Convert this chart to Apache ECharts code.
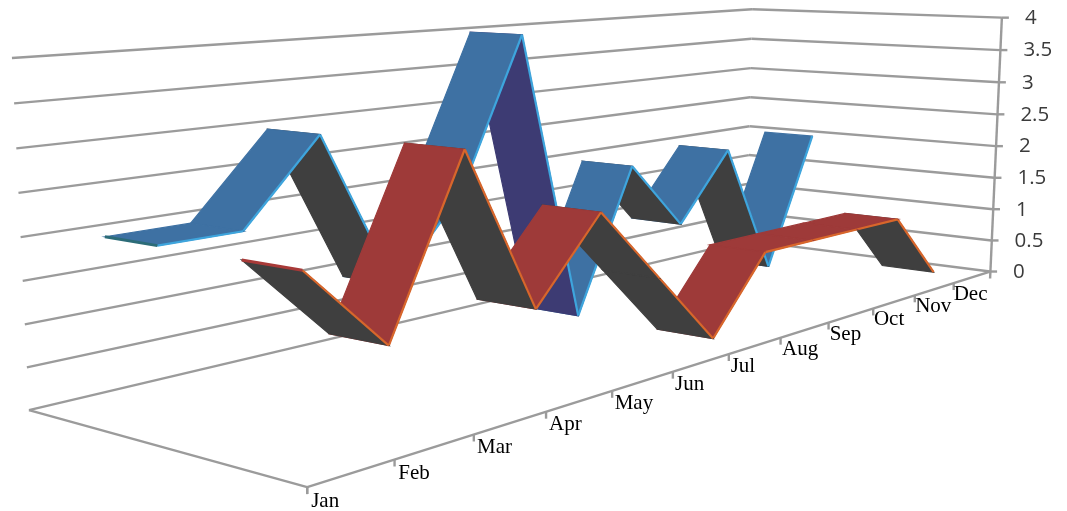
<!DOCTYPE html>
<html>
<head>
<meta charset="utf-8">
<style>html,body{margin:0;padding:0;background:#fff}#chart{width:1067px;height:511px}</style>
<script src="https://cdn.jsdelivr.net/npm/echarts@6/dist/echarts.min.js"></script>
</head>
<body>
<div id="chart"></div>
<script>
// Chart data
const categories = ['Jan','Feb','Mar','Apr','May','Jun','Jul','Aug','Sep','Oct','Nov','Dec'];
const valueTicks = [0, 0.5, 1, 1.5, 2, 2.5, 3, 3.5, 4];
const backSeriesValues = [2, 2, 3, 1, 2, 4, 0, 2, 1, 2, 0, 2];
const frontSeriesValues = [2, 1, 3, 1, 2, 1, 0, 1, 1, 1, 1, 0];

// Camera: known box corners (across, depth, height, all 0..1) and where they land on the page
const anchors = [
  [0, 0, 0, 307, 487], [1, 0, 0, 990, 271], [0, 1, 0, 29, 410], [1, 1, 0, 747, 241],
  [1, 0, 1, 1002, 18], [0, 1, 1, 12, 58], [1, 1, 1, 752, 9],
  [0.5, 0, 0, 729, 354], [0.25, 0, 0, 546, 412]
];

// Least-squares fit of the 3x4 projection matrix
function fitProjection(points) {
  const n = 11, M = [], R = [];
  for (let i = 0; i < n; i++) { M.push(new Array(n).fill(0)); R.push(0); }
  const add = (row, rhs) => {
    for (let i = 0; i < n; i++) {
      R[i] += row[i] * rhs;
      for (let j = 0; j < n; j++) M[i][j] += row[i] * row[j];
    }
  };
  points.forEach(([a, b, c, x, y]) => {
    add([a, b, c, 1, 0, 0, 0, 0, -x * a, -x * b, -x * c], x);
    add([0, 0, 0, 0, a, b, c, 1, -y * a, -y * b, -y * c], y);
  });
  for (let i = 0; i < n; i++) {
    let p = i;
    for (let k = i + 1; k < n; k++) if (Math.abs(M[k][i]) > Math.abs(M[p][i])) p = k;
    [M[i], M[p]] = [M[p], M[i]]; [R[i], R[p]] = [R[p], R[i]];
    for (let k = i + 1; k < n; k++) {
      const f = M[k][i] / M[i][i];
      for (let j = i; j < n; j++) M[k][j] -= f * M[i][j];
      R[k] -= f * R[i];
    }
  }
  const s = new Array(n).fill(0);
  for (let i = n - 1; i >= 0; i--) {
    let t = R[i];
    for (let j = i + 1; j < n; j++) t -= M[i][j] * s[j];
    s[i] = t / M[i][i];
  }
  return s;
}
const P = fitProjection(anchors);
function project(u, d, w) {
  const q = P[8] * u + P[9] * d + P[10] * w + 1;
  return [(P[0] * u + P[1] * d + P[2] * w + P[3]) / q, (P[4] * u + P[5] * d + P[6] * w + P[7]) / q];
}

// Flat axes supply the scales; their pixels are normalised before the 3D projection
function unit(params, api, cat, value, offset) {
  const cs = params.coordSys;
  const px = api.coord([cat, value]);
  const band = cs.width / categories.length;
  return [(px[0] + (offset || 0) * band - cs.x) / cs.width, 1 - (px[1] - cs.y) / cs.height];
}

const axisStyle = { stroke: '#9b9b9b', lineWidth: 2.4, fill: null };
const segment = (a, b, style) => ({
  type: 'line', shape: { x1: a[0], y1: a[1], x2: b[0], y2: b[1] }, style: style || axisStyle
});

// Wall gridlines, with a tick mark and number on the upright axis
function renderValueTick(params, api) {
  const w = unit(params, api, 0, api.value(0))[1];
  const left = project(0, 1, w), corner = project(1, 1, w), right = project(1, 0, w);
  return {
    type: 'group',
    children: [
      segment(left, corner), segment(corner, right),
      segment(right, [right[0] + 7, right[1]]),
      {
        type: 'text',
        style: {
          x: right[0] + 23, y: right[1] + 0.5, text: String(api.value(0)),
          font: '20.5px "Open Sans"', fill: '#3b3b3b', textAlign: 'left', textVerticalAlign: 'middle'
        }
      }
    ]
  };
}

// Floor outline and the upright axis
function renderFrame() {
  const A = project(0, 0, 0), B = project(1, 0, 0), C = project(0, 1, 0), E = project(1, 0, 1);
  return {
    type: 'group',
    children: [
      segment(A, B), segment(A, C),
      segment([B[0], B[1] + 7], E),
      segment(A, [A[0], A[1] + 7])
    ]
  };
}

// Month tick marks along the floor edge, with labels beside them
function renderCategoryTick(params, api) {
  const i = api.value(0);
  const u = unit(params, api, i, 0, -0.5)[0];
  const at = project(u, 0, 0);
  const k = i / (categories.length - 1);
  return {
    type: 'group',
    children: [
      segment(at, [at[0], at[1] + 7]),
      {
        type: 'text',
        style: {
          x: at[0] + 4 - 4 * k, y: at[1] + 14 - 3 * k, text: categories[i],
          font: '21px "Liberation Serif"', fill: '#000', textAlign: 'left', textVerticalAlign: 'middle'
        }
      }
    ]
  };
}

// One ribbon segment between neighbouring months
function ribbonRenderer(look) {
  return function (params, api) {
    const i = api.value(0), a = api.value(1), b = api.value(2);
    const pa = unit(params, api, i, a), pb = unit(params, api, i + 1, b);
    const backA = project(pa[0], look.back, pa[1]), frontA = project(pa[0], look.front, pa[1]);
    const backB = project(pb[0], look.back, pb[1]), frontB = project(pb[0], look.front, pb[1]);
    const falling = a > b;
    const fill = !falling ? look.top : (a - b >= 4 ? '#3d3b73' : '#3f3f3f');
    const edge = { stroke: look.edge, lineWidth: 2.2, fill: null };
    const children = [
      { type: 'polygon', shape: { points: [backA, backB, frontB, frontA] }, style: { fill: fill, stroke: fill, lineWidth: 1.2 } },
      segment(frontA, frontB, edge)
    ];
    if (i === 0) {
      children.push(segment(backA, frontA, { stroke: look.cap, lineWidth: 3, fill: null }));
    }
    return { type: 'group', children: children };
  };
}

// Segments are listed far-to-near so closer months paint over farther ones
const segmentsOf = values => values.slice(0, -1)
  .map((v, i) => [i, v, values[i + 1]])
  .reverse();

const chart = echarts.init(document.getElementById('chart'), null, { renderer: 'canvas' });
chart.setOption({
  animation: false,
  backgroundColor: '#ffffff',
  grid: { left: 0, right: 0, top: 0, bottom: 0 },
  xAxis: { type: 'category', data: categories, show: false },
  yAxis: { type: 'value', min: 0, max: 4, show: false },
  series: [
    {
      type: 'custom', name: 'Gridlines', silent: true, clip: false,
      renderItem: renderValueTick, data: valueTicks.map(v => [v]),
      encode: { x: -1, y: 0 }
    },
    {
      type: 'custom', name: 'Frame', silent: true, clip: false,
      renderItem: renderFrame, data: [[0]], encode: { x: -1, y: -1 }
    },
    {
      type: 'custom', name: 'Months', silent: true, clip: false,
      renderItem: renderCategoryTick, data: categories.map((c, i) => [i]),
      encode: { x: 0, y: -1 }
    },
    {
      type: 'custom', name: 'Series 2', silent: true, clip: false,
      renderItem: ribbonRenderer({ back: 0.845, front: 0.645, top: '#3e71a3', edge: '#3ea5dd', cap: '#2c6c78' }),
      data: segmentsOf(backSeriesValues), encode: { x: 0, y: 1 }
    },
    {
      type: 'custom', name: 'Series 1', silent: true, clip: false,
      renderItem: ribbonRenderer({ back: 0.345, front: 0.145, top: '#9e3a39', edge: '#d8662b', cap: '#a83a38' }),
      data: segmentsOf(frontSeriesValues), encode: { x: 0, y: 1 }
    }
  ]
});
</script>
</body>
</html>
